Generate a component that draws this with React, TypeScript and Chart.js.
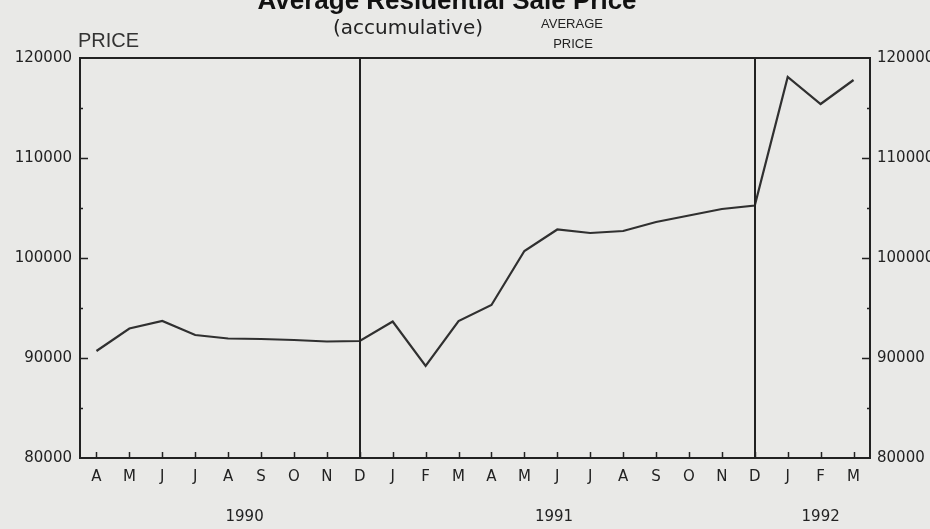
import React, { useEffect, useRef } from "react";
import { Chart, registerables } from "chart.js";

Chart.register(...registerables);

const months = ["A", "M", "J", "J", "A", "S", "O", "N", "D", "J", "F", "M", "A", "M", "J", "J", "A", "S", "O", "N", "D", "J", "F", "M"];
const prices = [90700, 92950, 93700, 92300, 91950, 91900, 91800, 91650, 91700, 93650, 89200, 93700, 95300, 100700, 102850, 102500, 102700, 103600, 104250, 104900, 105250, 118100, 115400, 117800];
const separatorIndex = [8, 20];
const yearLabels = ["1990", "1991", "1992"];
const yearAnchorIndex = [4.5, 13.9, 22];
const yMin = 80000;
const yMax = 120000;
const yMajorStep = 10000;
const yMinorStep = 5000;

const titleText = "Average Residential Sale Price";
const subtitleText = "(accumulative)";
const yAxisTitle = "PRICE";
const seriesLabel = ["AVERAGE", "PRICE"];

const INK = "#222222";
const FONT = '"DejaVu Sans", sans-serif';

const decorPlugin = {
  id: "decor",
  beforeDraw(chart: any) {
    const ctx = chart.ctx;
    ctx.save();
    ctx.fillStyle = "#e9e9e7";
    ctx.fillRect(0, 0, chart.width, chart.height);
    ctx.restore();
  },
  afterDatasetsDraw(chart: any) {
    const ctx = chart.ctx;
    const { left, right, top, bottom } = chart.chartArea;
    const x = chart.scales.x;
    const y = chart.scales.y;
    ctx.save();
    ctx.strokeStyle = INK;
    ctx.lineWidth = 2;
    // top frame line
    ctx.beginPath();
    ctx.moveTo(left - 1, top);
    ctx.lineTo(right + 1, top);
    ctx.stroke();
    // separators
    separatorIndex.forEach((i) => {
      const px = Math.round(x.getPixelForValue(i));
      ctx.beginPath();
      ctx.moveTo(px, top);
      ctx.lineTo(px, bottom);
      ctx.stroke();
    });
    // x inward ticks
    ctx.lineWidth = 1.5;
    months.forEach((_, i) => {
      const px = Math.round(x.getPixelForValue(i)) + 0.5;
      ctx.beginPath();
      ctx.moveTo(px, bottom);
      ctx.lineTo(px, bottom - 6);
      ctx.stroke();
    });
    // y inward ticks
    for (let v = yMin + yMinorStep; v < yMax; v += yMinorStep) {
      const py = Math.round(y.getPixelForValue(v)) + 0.5;
      const len = v % yMajorStep === 0 ? 8 : 3;
      ctx.beginPath();
      ctx.moveTo(left, py);
      ctx.lineTo(left + len, py);
      ctx.moveTo(right, py);
      ctx.lineTo(right - len, py);
      ctx.stroke();
    }
    // year labels
    ctx.fillStyle = INK;
    ctx.font = `15px ${FONT}`;
    ctx.textAlign = "center";
    ctx.textBaseline = "middle";
    yearLabels.forEach((t, i) => {
      ctx.fillText(t, x.getPixelForValue(yearAnchorIndex[i]), 517);
    });
    // title texts
    ctx.textBaseline = "alphabetic";
    ctx.fillStyle = "#111";
    ctx.font = 'bold 26px "Liberation Sans", sans-serif';
    ctx.fillText(titleText, 447, 9);
    ctx.fillStyle = INK;
    ctx.font = `20px ${FONT}`;
    ctx.fillText(subtitleText, 408, 34);
    ctx.font = '13px "Liberation Sans", sans-serif';
    ctx.fillText(seriesLabel[0], 572, 28);
    ctx.fillText(seriesLabel[1], 573, 48);
    ctx.textAlign = "left";
    ctx.fillStyle = "#333";
    ctx.font = '20px "Liberation Sans", sans-serif';
    ctx.fillText(yAxisTitle, 78, 47);
    ctx.restore();
  },
};

export default function App() {
  const ref = useRef<HTMLCanvasElement | null>(null);
  useEffect(() => {
    document.body.style.margin = "0";
    const canvas = ref.current;
    if (!canvas) return;
    const tickFont = { family: "DejaVu Sans", size: 15 };
    const chart = new Chart(canvas, {
      type: "line",
      data: {
        labels: months,
        datasets: [
          {
            label: "Average Price",
            data: prices,
            borderColor: "#303030",
            borderWidth: 2.2,
            pointRadius: 0,
            tension: 0,
            yAxisID: "y",
          },
        ],
      },
      options: {
        animation: false,
        responsive: false,
        devicePixelRatio: 1,
        layout: { padding: { top: 58, left: 0, right: 0, bottom: 0 } },
        plugins: { legend: { display: false }, title: { display: false }, tooltip: { enabled: false } },
        scales: {
          x: {
            type: "category",
            offset: true,
            grid: { display: false, drawTicks: false },
            border: { display: true, color: INK, width: 2 },
            ticks: { font: tickFont, color: INK, padding: 10, maxRotation: 0, autoSkip: false },
            afterFit: (s: any) => { s.height = 71; },
          },
          y: {
            position: "left",
            min: yMin,
            max: yMax,
            grid: { display: false, drawTicks: false },
            border: { display: true, color: INK, width: 2 },
            ticks: { stepSize: yMajorStep, font: tickFont, color: INK, padding: 8, callback: (v: any) => String(v) },
            afterFit: (s: any) => { s.width = 80; },
          },
          y2: {
            position: "right",
            min: yMin,
            max: yMax,
            grid: { display: false, drawTicks: false },
            border: { display: true, color: INK, width: 2 },
            ticks: { stepSize: yMajorStep, font: tickFont, color: INK, padding: 7, callback: (v: any) => String(v) },
            afterFit: (s: any) => { s.width = 60; },
          },
        },
      },
      plugins: [decorPlugin],
    });
    return () => chart.destroy();
  }, []);
  return (
    <div style={{ width: 930, height: 529 }}>
      <canvas ref={ref} width={930} height={529} style={{ display: "block" }} />
    </div>
  );
}
